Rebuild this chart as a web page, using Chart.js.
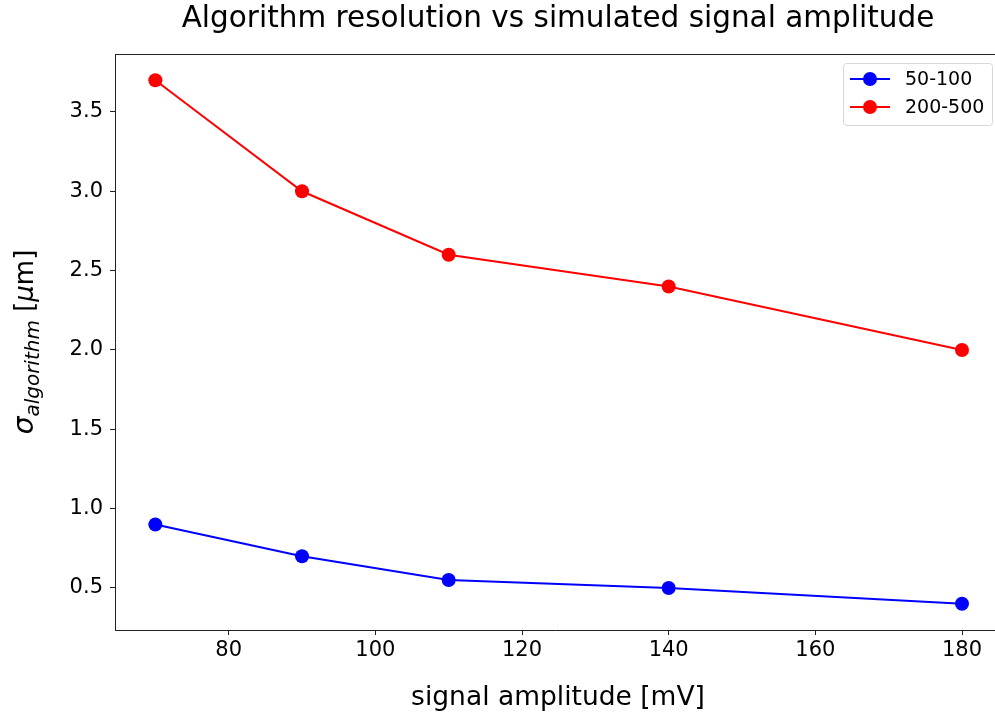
<!DOCTYPE html>
<html>
<head>
<meta charset="utf-8">
<script src="https://cdn.jsdelivr.net/npm/chart.js@4"></script>
<style>
  html, body { margin: 0; padding: 0; background: #fff; overflow: hidden; }
  #chart { position: absolute; left: 0; top: 0; }
</style>
</head>
<body>
<canvas id="chart" width="995" height="717"></canvas>
<script>
// data
const amplitudes = [70, 90, 110, 140, 180];
const res50to100 = [0.9, 0.7, 0.55, 0.5, 0.4];
const res200to500 = [3.7, 3.0, 2.6, 2.4, 2.0];
const seriesLabels = ["50-100", "200-500"];
const xTicks = [80, 100, 120, 140, 160, 180];
const yTicks = [0.5, 1.0, 1.5, 2.0, 2.5, 3.0, 3.5];

const FONT = "'DejaVu Sans', sans-serif";

function points(ys) {
  return amplitudes.map((x, i) => ({ x: x, y: ys[i] }));
}

// title, axis labels, top spine and legend drawn by hand (matplotlib look)
const decor = {
  id: "decor",
  afterDraw(chart) {
    const ctx = chart.ctx;
    const a = chart.chartArea;
    ctx.save();

    // top spine (the right one is cut off in the original picture)
    ctx.strokeStyle = "#222";
    ctx.lineWidth = 1;
    ctx.beginPath();
    ctx.moveTo(a.left, a.top + 0.5);
    ctx.lineTo(a.right, a.top + 0.5);
    ctx.stroke();

    ctx.fillStyle = "#000";
    // title
    ctx.font = "29.5px " + FONT;
    ctx.textAlign = "center";
    ctx.textBaseline = "middle";
    ctx.fillText("Algorithm resolution vs simulated signal amplitude", 558, 19);

    // x label
    ctx.font = "26.5px " + FONT;
    ctx.fillText("signal amplitude [mV]", 558, 698);

    // y label with subscript
    ctx.translate(25, 342);
    ctx.rotate(-Math.PI / 2);
    const big = "italic 28px " + FONT, sub = "italic 20px " + FONT;
    const norm = "26px " + FONT, it = "italic 26px " + FONT;
    const parts = [
      ["σ", big, 8],
      ["algorithm", sub, 14],
      [" [", norm, 8],
      ["μ", it, 8],
      ["m]", norm, 8]
    ];
    let total = 0;
    parts.forEach(p => { ctx.font = p[1]; total += ctx.measureText(p[0]).width; });
    let x = -total / 2;
    ctx.textAlign = "left";
    ctx.textBaseline = "alphabetic";
    parts.forEach(p => {
      ctx.font = p[1];
      ctx.fillText(p[0], x, p[2]);
      x += ctx.measureText(p[0]).width;
    });
    ctx.setTransform(1, 0, 0, 1, 0, 0);

    // legend
    const lx = 843, ly = 63, lw = 149, lh = 62;
    ctx.fillStyle = "rgba(255,255,255,0.8)";
    ctx.strokeStyle = "#d8d8d8";
    ctx.lineWidth = 1;
    ctx.beginPath();
    ctx.roundRect(lx + 0.5, ly + 0.5, lw, lh, 3);
    ctx.fill();
    ctx.stroke();
    chart.data.datasets.forEach((ds, i) => {
      const yy = ly + 16 + i * 28;
      ctx.strokeStyle = ds.borderColor;
      ctx.lineWidth = 2;
      ctx.beginPath();
      ctx.moveTo(lx + 7, yy);
      ctx.lineTo(lx + 47, yy);
      ctx.stroke();
      ctx.fillStyle = ds.backgroundColor;
      ctx.beginPath();
      ctx.arc(lx + 27, yy, 7, 0, Math.PI * 2);
      ctx.fill();
      ctx.fillStyle = "#000";
      ctx.font = "19px " + FONT;
      ctx.textAlign = "left";
      ctx.textBaseline = "middle";
      ctx.fillText(ds.label, lx + 62, yy + 1);
    });
    ctx.restore();
  }
};

const ctx = document.getElementById("chart").getContext("2d");
const chart = new Chart(ctx, {
  type: "line",
  data: {
    datasets: [
      {
        label: seriesLabels[0],
        data: points(res50to100),
        borderColor: "#0000ff",
        backgroundColor: "#0000ff",
        borderWidth: 2,
        pointRadius: 7,
        pointHoverRadius: 7,
        pointBorderWidth: 0,
        tension: 0
      },
      {
        label: seriesLabels[1],
        data: points(res200to500),
        borderColor: "#ff0000",
        backgroundColor: "#ff0000",
        borderWidth: 2,
        pointRadius: 7,
        pointHoverRadius: 7,
        pointBorderWidth: 0,
        tension: 0
      }
    ]
  },
  options: {
    responsive: false,
    animation: false,
    layout: { autoPadding: false, padding: { top: 54, left: 0, right: 0, bottom: 0 } },
    plugins: {
      legend: { display: false },
      tooltip: { enabled: false }
    },
    scales: {
      x: {
        type: "linear",
        min: 64.5,
        max: 184.5,
        afterBuildTicks: (s) => { s.ticks = xTicks.map(v => ({ value: v })); },
        afterFit: (s) => { s.height = 87; s.paddingLeft = 0; s.paddingRight = 0; },
        grid: { drawOnChartArea: false, tickLength: 5, color: "#222" },
        border: { color: "#222" },
        ticks: {
          color: "#000",
          font: { family: FONT, size: 21 },
          padding: 3,
          maxRotation: 0
        }
      },
      y: {
        type: "linear",
        min: 0.235,
        max: 3.865,
        afterBuildTicks: (s) => { s.ticks = yTicks.map(v => ({ value: v })); },
        afterFit: (s) => { s.width = 115; s.paddingTop = 0; s.paddingBottom = 0; },
        grid: { drawOnChartArea: false, tickLength: 5, color: "#222" },
        border: { color: "#222" },
        ticks: {
          color: "#000",
          font: { family: FONT, size: 21 },
          padding: 7,
          callback: (v) => v.toFixed(1)
        }
      }
    }
  },
  plugins: [decor]
});
</script>
</body>
</html>
